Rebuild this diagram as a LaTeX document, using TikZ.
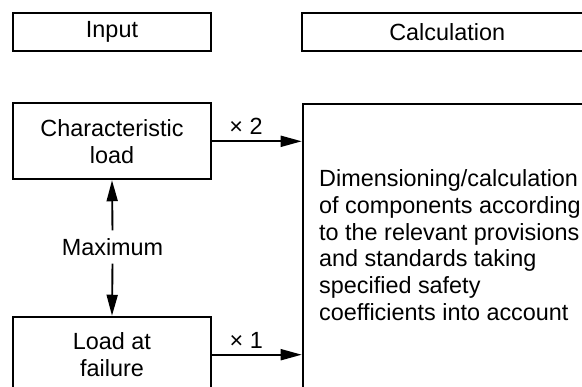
\documentclass[tikz,border=0pt]{standalone}
\usepackage{fontspec}
\setmainfont{Liberation Sans}
\usetikzlibrary{arrows.meta}
\begin{document}
\begin{tikzpicture}[x=1pt,y=-1pt,
  txt/.style={font=\fontsize{23.4pt}{26.8pt}\selectfont},
  box/.style={draw, line width=1.9pt, txt, align=center, inner sep=0pt,
    minimum width=197.4pt, minimum height=#1},
  conn/.style={line width=1.9pt, -{Triangle[length=21pt,width=11pt]}},
]
\useasboundingbox (0,0) rectangle (582,387);
\clip (0,0) rectangle (582,387);
\node[box=38.3pt] (input) at (112,31.85) {Input};
\node[box=38.3pt, minimum width=291pt] (calc) at (447.2,31.85) {Calculation};
\node[box=76pt] (char) at (112,141.3) {Characteristic\\load};
\node[box=76pt] (load) at (112,354.7) {Load at\\failure};
\node[draw, line width=1.9pt, minimum width=320pt, minimum height=320pt,
  anchor=north west, inner sep=0pt] (big) at (301.7,103.3) {};
\node[txt, align=left, anchor=north west, inner sep=0pt] (bigtext) at (319,169.4)
  {Dimensioning/calculation\\of components according\\to the relevant provisions\\and standards taking\\specified safety\\coefficients into account};
\node[txt, inner xsep=0pt, inner ysep=7.8pt] (max) at (112.5,247) {Maximum};
\draw[conn] (max.north) -- (char.south);
\draw[conn] (max.south) -- (load.north);
\draw[conn] (char.east) -- (char.east -| big.west);
\draw[conn] (load.east) -- (load.east -| big.west);
\node[txt, anchor=base, inner sep=0pt] (m2) at (246,135) {× 2};
\node[txt, anchor=base, inner sep=0pt] (m1) at (246.3,348.3) {× 1};
\end{tikzpicture}
\end{document}
